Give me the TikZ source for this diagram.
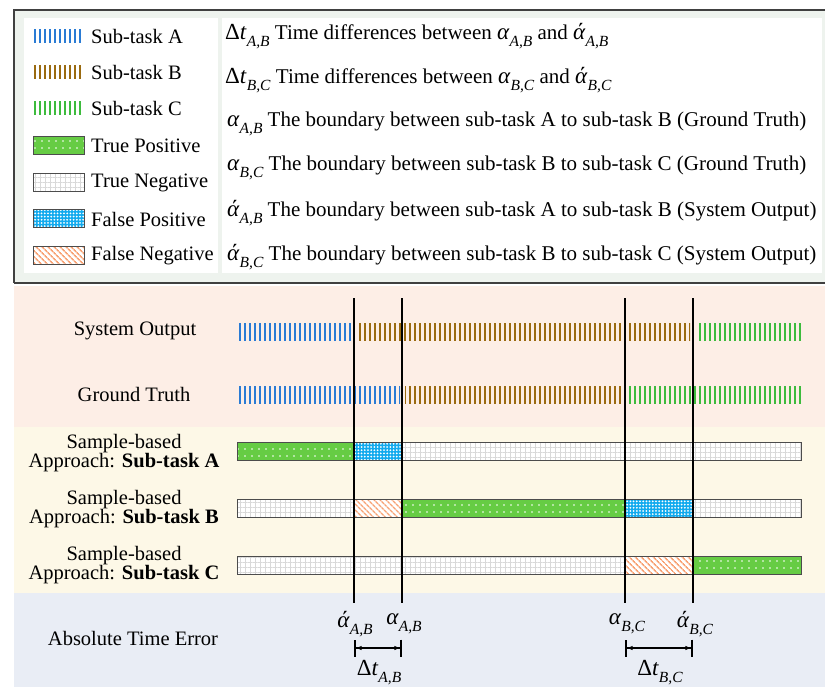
\documentclass[tikz,border=0pt]{standalone}
\usepackage{fontspec}
\setmainfont{Liberation Serif}
\usetikzlibrary{patterns,patterns.meta,arrows.meta}

\definecolor{stblue}{HTML}{2A7BD4}
\definecolor{stbrown}{HTML}{9A6A10}
\definecolor{stgreen}{HTML}{3DBB3D}
\definecolor{tpgreen}{HTML}{66CC44}
\definecolor{fpcyan}{HTML}{11AAEE}
\definecolor{fnorange}{HTML}{F8A274}
\definecolor{bgpink}{HTML}{FDEEE6}
\definecolor{bgyellow}{HTML}{FDF8E7}
\definecolor{bgblue}{HTML}{E9EDF5}
\definecolor{bglegend}{HTML}{EEF3EE}

% symbol with a lowered italic index
\newcommand{\gsym}[2]{{\fontsize{23}{23}\selectfont\textit{#1}}\raisebox{-0.35em}{\fontsize{15.5}{15.5}\selectfont\textit{#2}}}
\newcommand{\dtsym}[1]{{\fontsize{23}{23}\selectfont Δ}\gsym{t}{#1}}

\tikzset{
  txt/.style={font=\fontsize{20.5}{17}\selectfont, inner sep=1pt},
  keytxt/.style={font=\fontsize{21}{17}\selectfont, inner sep=1pt, anchor=west},
  stA/.style={pattern={Lines[angle=90,distance=5pt,line width=2.5pt]}, pattern color=stblue},
  stB/.style={pattern={Lines[angle=90,distance=5pt,line width=2.5pt]}, pattern color=stbrown},
  stC/.style={pattern={Lines[angle=90,distance=5pt,line width=2.5pt]}, pattern color=stgreen},
  tp/.style={fill=tpgreen, postaction={pattern={Dots[radius=0.8pt,distance=7pt]}, pattern color=white}},
  tn/.style={fill=white, postaction={pattern={Hatch[angle=0,distance=5pt,line width=0.6pt]}, pattern color=black!15}},
  fp/.style={fill=fpcyan, postaction={pattern={Dots[radius=1pt,distance=3.2pt]}, pattern color=white}},
  fn/.style={fill=white, postaction={pattern={Lines[angle=-45,distance=4pt,line width=1.6pt]}, pattern color=fnorange}},
  seg/.style={postaction={draw=black!70, line width=1pt}},
  bound/.style={line width=2pt},
  gap/.style={line width=1.6pt, {Bar[width=17pt]Latex[length=6pt]}-{Latex[length=6pt]Bar[width=17pt]}}
}

\begin{document}
\begin{tikzpicture}[x=1pt,y=-1pt]
\useasboundingbox (0,0) rectangle (825,687);

% legend
\fill[bglegend] (14,10) rectangle (826,283);
\fill[white] (24,18) rectangle (218,273);
\fill[white] (222,18) rectangle (822,273);
\draw[black!75, line width=1.5pt] (14,283) -- (14,10) -- (826,10);
\draw[black!75, line width=1.5pt] (14,283) -- (826,283);

\fill[stA] (33,30) rectangle (83,43);
\fill[stB] (33,66) rectangle (83,79);
\fill[stC] (33,102) rectangle (83,115);
\path[tp,seg] (33,137) rectangle (84,155);
\path[tn,seg] (33,174) rectangle (84,192);
\path[fp,seg] (33,210) rectangle (84,228);
\path[fn,seg] (33,247) rectangle (84,265);

\node[txt, anchor=west] (kA)  at (90,36)  {Sub-task A};
\node[txt, anchor=west] (kB)  at (90,72)  {Sub-task B};
\node[txt, anchor=west] (kC)  at (90,108) {Sub-task C};
\node[txt, anchor=west] (kTP) at (90,146) {True Positive};
\node[txt, anchor=west] (kTN) at (90,183) {True Negative};
\node[txt, anchor=west] (kFP) at (90,219) {False Positive};
\node[txt, anchor=west] (kFN) at (90,256) {False Negative};

\node[keytxt] (dAB) at (224,36)  {\dtsym{A,B} Time differences between \gsym{α}{A,B} and \gsym{ά}{A,B}};
\node[keytxt] (dBC) at (224,80)  {\dtsym{B,C} Time differences between \gsym{α}{B,C} and \gsym{ά}{B,C}};
\node[keytxt] (gAB) at (226,124) {\gsym{α}{A,B} The boundary between sub-task A to sub-task B (Ground Truth)};
\node[keytxt] (gBC) at (226,168) {\gsym{α}{B,C} The boundary between sub-task B to sub-task C (Ground Truth)};
\node[keytxt] (sAB) at (226,213) {\gsym{ά}{A,B} The boundary between sub-task A to sub-task B (System Output)};
\node[keytxt] (sBC) at (226,257) {\gsym{ά}{B,C} The boundary between sub-task B to sub-task C (System Output)};

% panels
\fill[bgpink] (14,286) rectangle (826,427);
\fill[bgyellow] (14,427) rectangle (826,593);
\fill[bgblue] (14,593) rectangle (826,687);

\node[txt] (rowSO) at (135,331) {System Output};
\node[txt] (rowGT) at (134,394) {Ground Truth};
\node[txt, align=center] (rowA) at (124,453) {Sample-based\\Approach: \textbf{Sub-task A}};
\node[txt, align=center] (rowB) at (124,509) {Sample-based\\Approach: \textbf{Sub-task B}};
\node[txt, align=center] (rowC) at (124,565) {Sample-based\\Approach: \textbf{Sub-task C}};
\node[txt] (rowTE) at (133,638) {Absolute Time Error};

% system output and ground truth
\fill[stA] (237,323) rectangle (352,340);
\fill[stB] (357,323) rectangle (690,340);
\fill[stC] (697,323) rectangle (801,340);
\fill[stA] (237,386) rectangle (400,403);
\fill[stB] (405,386) rectangle (622,403);
\fill[stC] (628,386) rectangle (803,403);

% sample-based rows
\path[tp,seg] (237,442) rectangle (354,460);
\path[fp,seg] (354,442) rectangle (402,460);
\path[tn,seg] (402,442) rectangle (801,460);

\path[tn,seg] (237,499) rectangle (354,517);
\path[fn,seg] (354,499) rectangle (402,517);
\path[tp,seg] (402,499) rectangle (625,517);
\path[fp,seg] (625,499) rectangle (693,517);
\path[tn,seg] (693,499) rectangle (801,517);

\path[tn,seg] (237,556) rectangle (625,574);
\path[fn,seg] (625,556) rectangle (693,574);
\path[tp,seg] (693,556) rectangle (801,574);

% boundaries
\coordinate (bsAB) at (354,298); \coordinate (esAB) at (354,603);
\coordinate (bgAB) at (402,298); \coordinate (egAB) at (402,603);
\coordinate (bgBC) at (625,298); \coordinate (egBC) at (625,603);
\coordinate (bsBC) at (693,298); \coordinate (esBC) at (693,603);
\draw[bound] (bsAB) -- (esAB);
\draw[bound] (bgAB) -- (egAB);
\draw[bound] (bgBC) -- (egBC);
\draw[bound] (bsBC) -- (esBC);

\node[txt] (lsAB) at (355,624) {\gsym{ά}{A,B}};
\node[txt] (lgAB) at (404,624) {\gsym{α}{A,B}};
\node[txt] (lgBC) at (627,624) {\gsym{α}{B,C}};
\node[txt] (lsBC) at (695,624) {\gsym{ά}{B,C}};

\coordinate (aAB1) at (354,648); \coordinate (aAB2) at (402,648);
\coordinate (aBC1) at (625,648); \coordinate (aBC2) at (693,648);
\draw[gap] (aAB1) -- (aAB2);
\draw[gap] (aBC1) -- (aBC2);
\node[txt] (tAB) at (379,673) {\dtsym{A,B}};
\node[txt] (tBC) at (660,673) {\dtsym{B,C}};
\end{tikzpicture}
\end{document}
